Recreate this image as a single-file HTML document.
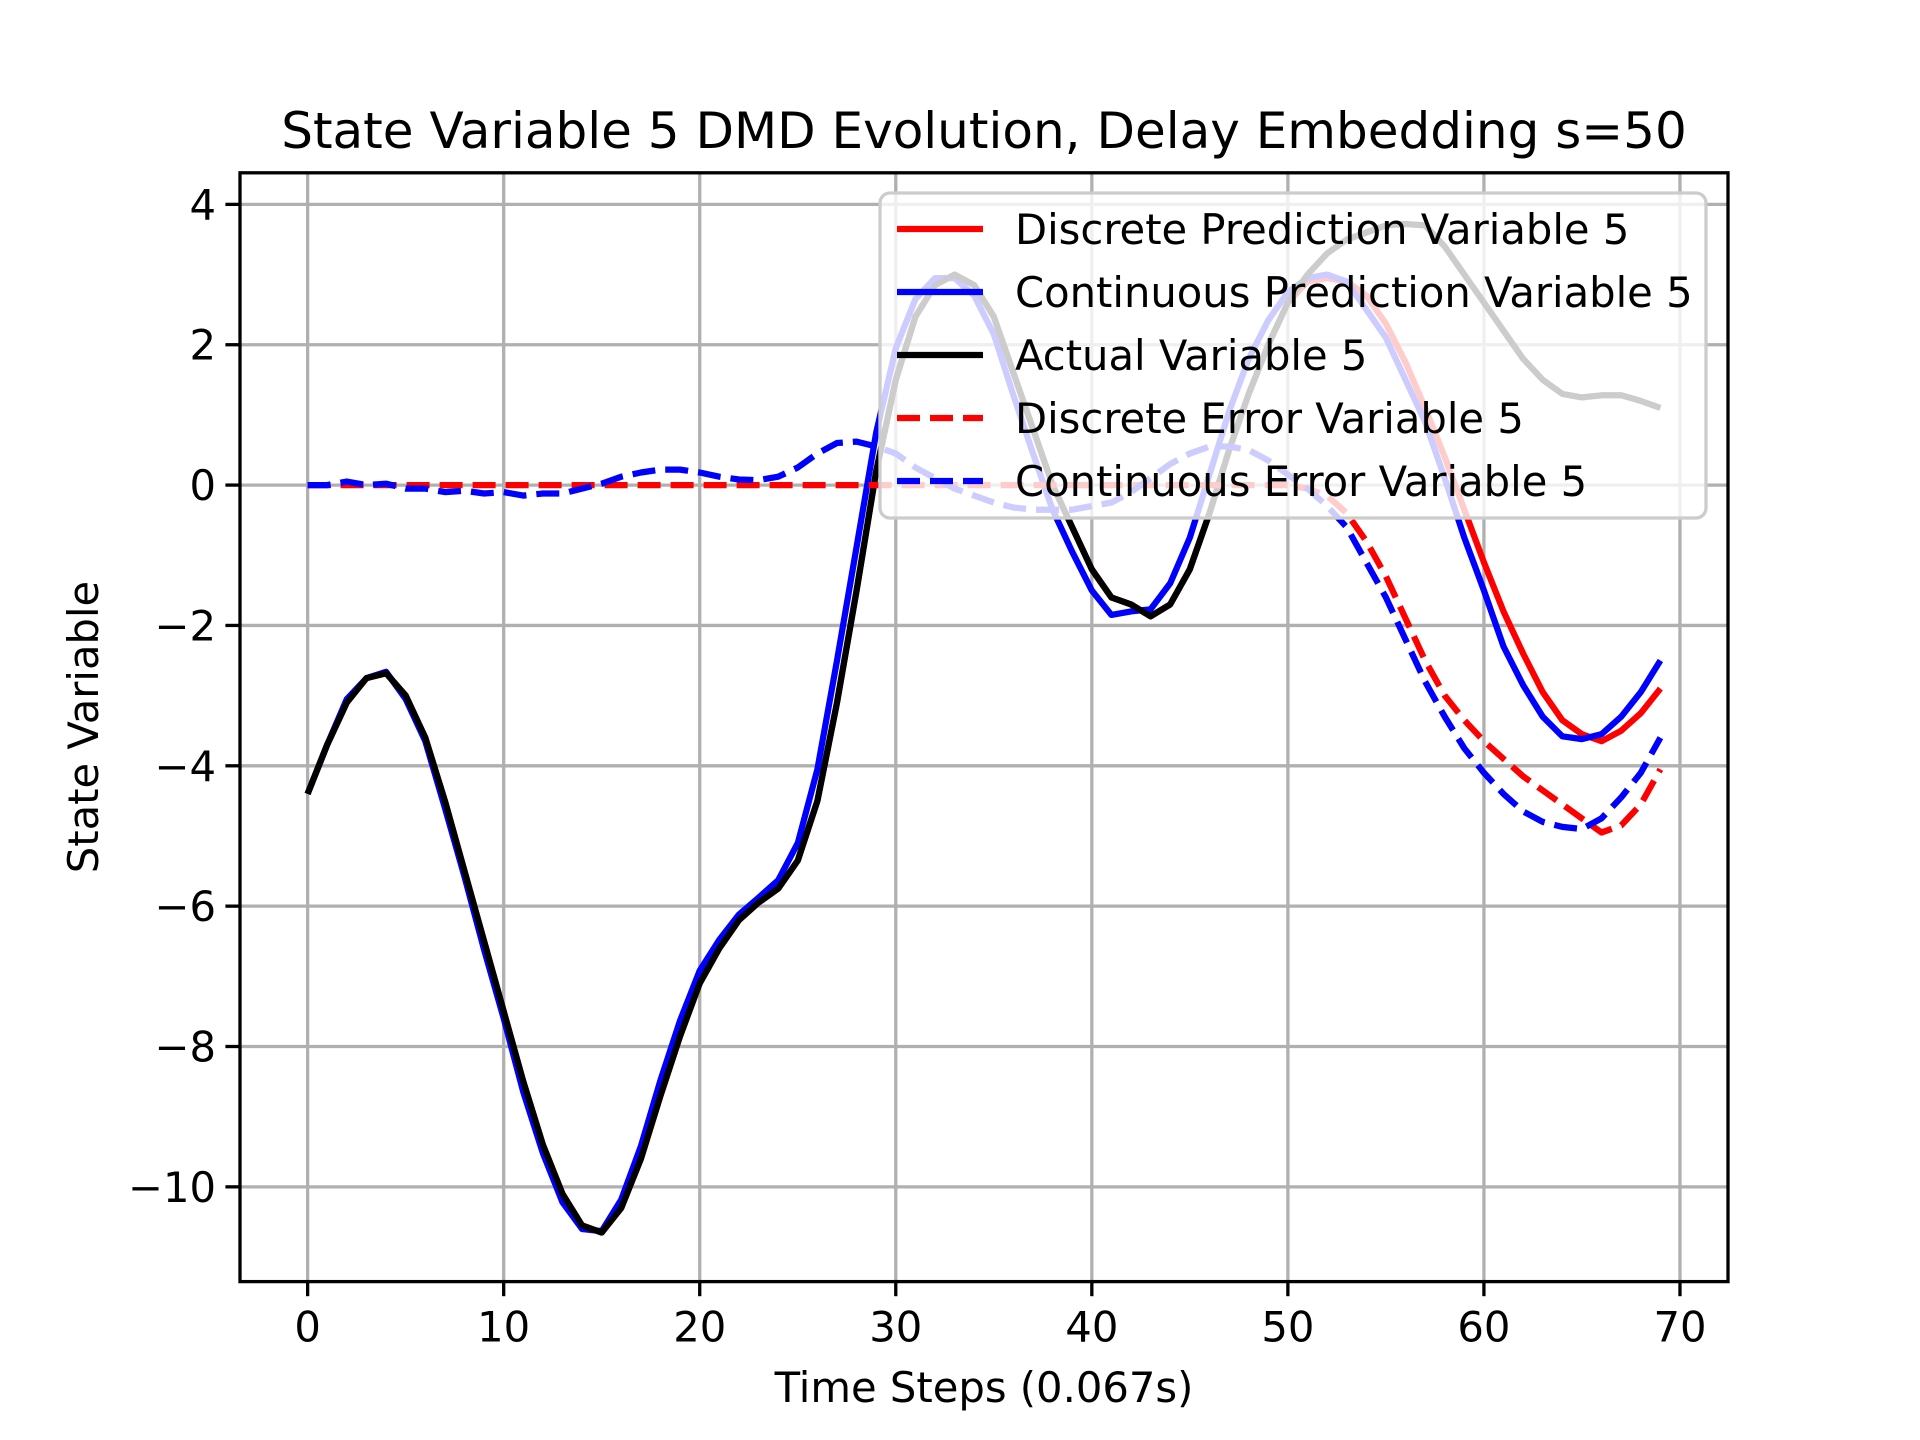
<!DOCTYPE html>
<html><head><meta charset="utf-8"><style>
html,body{margin:0;padding:0;background:#fff;}
svg{display:block;font-family:"DejaVu Sans","Liberation Sans",sans-serif;}
</style></head><body>
<svg id="chart" width="1920" height="1440" viewBox="0 0 1920 1440">
<rect width="1920" height="1440" fill="#fff"/>
<g id="grid"></g>
<g id="series"></g>
<g id="legend"></g>
<rect x="240" y="172.8" width="1488" height="1108.8" fill="none" stroke="#000" stroke-width="3.3"/>
<g id="ticks"></g>
<text x="984" y="148" font-size="50" text-anchor="middle">State Variable 5 DMD Evolution, Delay Embedding s=50</text>
<text x="984" y="1402" font-size="41.7" text-anchor="middle">Time Steps (0.067s)</text>
<text x="98" y="727" font-size="41.7" text-anchor="middle" transform="rotate(-90 98 727)">State Variable</text>
</svg>
<script>
const xTicks = [0,10,20,30,40,50,60,70];
const yTicks = [4,2,0,-2,-4,-6,-8,-10];
const yTickLabels = ["4","2","0","\u22122","\u22124","\u22126","\u22128","\u221210"];
const actual = [-4.4,-3.7,-3.1,-2.75,-2.68,-3.0,-3.6,-4.5,-5.5,-6.5,-7.5,-8.5,-9.4,-10.1,-10.55,-10.65,-10.3,-9.6,-8.7,-7.85,-7.1,-6.6,-6.2,-5.95,-5.75,-5.35,-4.5,-3.1,-1.5,0.2,1.5,2.4,2.85,3.0,2.85,2.4,1.6,0.8,0.0,-0.6,-1.2,-1.6,-1.7,-1.87,-1.7,-1.2,-0.4,0.5,1.3,2.0,2.6,3.0,3.3,3.5,3.6,3.7,3.72,3.7,3.4,3.0,2.6,2.2,1.8,1.5,1.3,1.25,1.28,1.28,1.2,1.1];
const contPred = [-4.4,-3.7,-3.05,-2.75,-2.66,-3.05,-3.65,-4.6,-5.58,-6.62,-7.6,-8.65,-9.52,-10.22,-10.6,-10.63,-10.18,-9.42,-8.48,-7.63,-6.92,-6.48,-6.12,-5.88,-5.63,-5.1,-4.05,-2.5,-0.88,0.75,1.95,2.65,2.95,2.95,2.7,2.15,1.28,0.45,-0.35,-0.95,-1.5,-1.85,-1.8,-1.77,-1.4,-0.75,0.15,1.05,1.8,2.35,2.75,2.95,3.0,2.9,2.5,2.1,1.5,0.9,0.1,-0.75,-1.5,-2.3,-2.85,-3.3,-3.58,-3.62,-3.55,-3.3,-2.95,-2.5];
const discPred = [-4.4,-3.7,-3.1,-2.75,-2.68,-3.0,-3.6,-4.5,-5.5,-6.5,-7.5,-8.5,-9.4,-10.1,-10.55,-10.65,-10.3,-9.6,-8.7,-7.85,-7.1,-6.6,-6.2,-5.95,-5.75,-5.35,-4.5,-3.1,-1.5,0.2,1.5,2.4,2.85,3.0,2.85,2.4,1.6,0.8,0.0,-0.6,-1.2,-1.6,-1.7,-1.87,-1.7,-1.2,-0.4,0.5,1.3,2.0,2.6,2.9,2.95,2.9,2.7,2.3,1.75,1.1,0.4,-0.35,-1.1,-1.8,-2.4,-2.95,-3.35,-3.55,-3.65,-3.5,-3.25,-2.9];
const discErr = [0,0,0,0,0,0,0,0,0,0,0,0,0,0,0,0,0,0,0,0,0,0,0,0,0,0,0,0,0,0,0,0,0,0,0,0,0,0,0,0,0,0,0,0,0,0,0,0,0,0,0,-0.05,-0.15,-0.4,-0.8,-1.3,-1.9,-2.5,-3.0,-3.35,-3.65,-3.9,-4.15,-4.35,-4.55,-4.75,-4.95,-4.85,-4.55,-4.05];
const contErr = [0,0,0.05,0,0.02,-0.05,-0.05,-0.1,-0.08,-0.12,-0.1,-0.15,-0.12,-0.12,-0.05,0.02,0.12,0.18,0.22,0.22,0.18,0.12,0.08,0.07,0.12,0.25,0.45,0.6,0.62,0.55,0.45,0.25,0.1,-0.05,-0.15,-0.25,-0.32,-0.35,-0.35,-0.35,-0.3,-0.25,-0.1,0.1,0.3,0.45,0.55,0.55,0.5,0.35,0.15,-0.05,-0.3,-0.6,-1.1,-1.6,-2.2,-2.8,-3.3,-3.75,-4.1,-4.4,-4.65,-4.8,-4.87,-4.9,-4.75,-4.45,-4.1,-3.6];

const NS="http://www.w3.org/2000/svg";
const L=240,R=1728,T=172.8,B=1281.6;
const xmin=-3.45,xmax=72.45,ymin=-11.35,ymax=4.45;
function sx(v){return L+(v-xmin)/(xmax-xmin)*(R-L);}
function sy(v){return B-(v-ymin)/(ymax-ymin)*(B-T);}
function mk(tag,attrs,parent){const e=document.createElementNS(NS,tag);for(const k in attrs)e.setAttribute(k,attrs[k]);parent.appendChild(e);return e;}
const grid=document.getElementById('grid'),ticks=document.getElementById('ticks'),series=document.getElementById('series'),legend=document.getElementById('legend');
xTicks.forEach(v=>{
  const g=mk('line',{x1:sx(v),x2:sx(v),y1:T,y2:B,stroke:'#b0b0b0','stroke-width':3.3},grid);
  
  
  const t=mk('line',{x1:sx(v),x2:sx(v),y1:B,y2:B+14.6,stroke:'#000','stroke-width':3.3},ticks);
  
  
  const l=mk('text',{x:sx(v),y:B+60,'font-size':41.7,'text-anchor':'middle'},ticks);
  l.textContent=String(v);
  
  
});
yTicks.forEach((v,i)=>{
  const g=mk('line',{x1:L,x2:R,y1:sy(v),y2:sy(v),stroke:'#b0b0b0','stroke-width':3.3},grid);
  
  
  const t=mk('line',{x1:L-14.6,x2:L,y1:sy(v),y2:sy(v),stroke:'#000','stroke-width':3.3},ticks);
  
  
  const l=mk('text',{x:L-24,y:sy(v)+15,'font-size':41.7,'text-anchor':'end'},ticks);
  l.textContent=yTickLabels[i];
  
  
});
function pts(arr){return arr.map((v,i)=>sx(i).toFixed(1)+','+sy(v).toFixed(1)).join(' ');}
const defs=[
 {d:discPred,c:'#ff0000',dash:null,n:'discrete-prediction-line',label:'Discrete Prediction Variable 5'},
 {d:contPred,c:'#0000ff',dash:null,n:'continuous-prediction-line',label:'Continuous Prediction Variable 5'},
 {d:actual,c:'#000000',dash:null,n:'actual-line',label:'Actual Variable 5'},
 {d:discErr,c:'#ff0000',dash:'23,10',n:'discrete-error-line',label:'Discrete Error Variable 5'},
 {d:contErr,c:'#0000ff',dash:'23,10',n:'continuous-error-line',label:'Continuous Error Variable 5'}
];
defs.forEach(s=>{
  const a={points:pts(s.d),fill:'none',stroke:s.c,'stroke-width':6.25,'stroke-linejoin':'round'};
  if(s.dash)a['stroke-dasharray']=s.dash;
  const p=mk('polyline',a,series);
  
  
});
const box=mk('rect',{x:880,y:193,width:826,height:325,rx:10,fill:'#fff','fill-opacity':0.8,stroke:'#cccccc','stroke-width':3.3},legend);


defs.forEach((s,i)=>{
  const y=229+i*63;
  const a={x1:897,x2:983,y1:y,y2:y,stroke:s.c,'stroke-width':6.25};
  if(s.dash)a['stroke-dasharray']='23,10';
  const ln=mk('line',a,legend);
  
  
  const t=mk('text',{x:1015,y:y+15,'font-size':41.7},legend);
  t.textContent=s.label;
  
  
});
</script>
</body></html>
